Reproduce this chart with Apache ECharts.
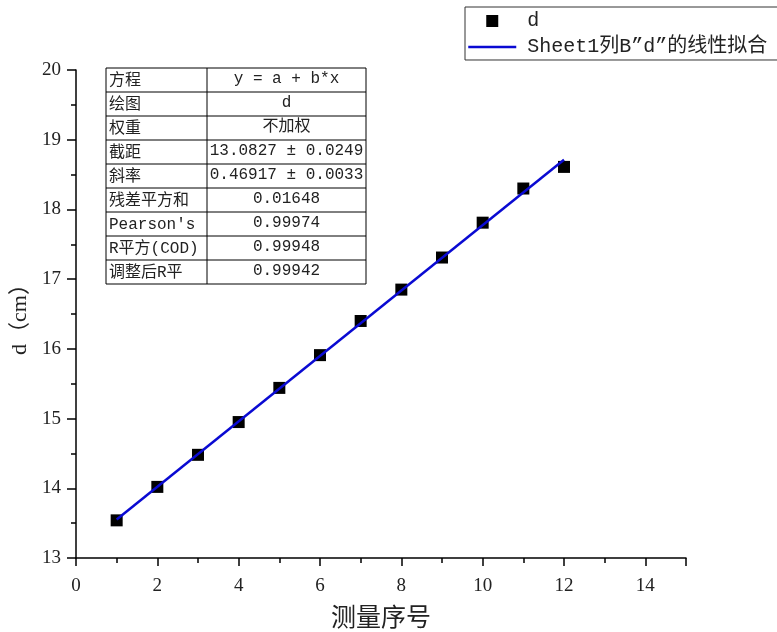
<!DOCTYPE html>
<html>
<head>
<meta charset="utf-8">
<script src="https://cdn.jsdelivr.net/npm/echarts@6/dist/echarts.min.js"></script>
<style>html,body{margin:0;padding:0;background:#fff}#c{width:777px;height:632px}</style>
</head>
<body>
<div id="c"></div>
<script>
// measurement index and measured d (cm)
const xValues = [1, 2, 3, 4, 5, 6, 7, 8, 9, 10, 11, 12];
const dValues = [13.54, 14.02, 14.48, 14.95, 15.44, 15.91, 16.40, 16.85, 17.31, 17.81, 18.30, 18.61];
// linear fit coefficients (from the fit table)
const fitIntercept = 13.0827;
const fitSlope = 0.46917;
const fitRange = [1, 12];
// fit table
const tableLabels = ['方程', '绘图', '权重', '截距', '斜率', '残差平方和', "Pearson's", 'R平方(COD)', '调整后R平'];
const tableValues = ['y = a + b*x', 'd', '不加权', '13.0827 ± 0.0249', '0.46917 ± 0.0033', '0.01648', '0.99974', '0.99948', '0.99942'];
const seriesNames = ['d', 'Sheet1列B”d”的线性拟合'];

const chart = echarts.init(document.getElementById('c'), null, {renderer: 'canvas'});

const scatterData = xValues.map((x, i) => [x, dValues[i]]);
const fitData = fitRange.map(x => [x, fitIntercept + fitSlope * x]);

// table graphics
const tX = 106, tY = 68, tW = 260, c1 = 101, rH = 24;
const tableFont = "'Liberation Mono', 'Noto Sans CJK SC', monospace";
const tableChildren = [];
tableChildren.push({type: 'rect', shape: {x: tX, y: tY, width: tW, height: rH * tableLabels.length}, style: {fill: '#fff', stroke: '#000', lineWidth: 1}});
tableChildren.push({type: 'line', shape: {x1: tX + c1, y1: tY, x2: tX + c1, y2: tY + rH * tableLabels.length}, style: {stroke: '#000', lineWidth: 1}});
tableLabels.forEach((lab, i) => {
  if (i > 0) tableChildren.push({type: 'line', shape: {x1: tX, y1: tY + rH * i, x2: tX + tW, y2: tY + rH * i}, style: {stroke: '#000', lineWidth: 1}});
  tableChildren.push({type: 'text', style: {x: tX + 3, y: tY + rH * i + rH / 2 + 1, text: lab, font: "16px " + tableFont, fill: '#222', textVerticalAlign: 'middle', textAlign: 'left'}});
  tableChildren.push({type: 'text', style: {x: tX + c1 + (tW - c1) / 2, y: tY + rH * i + rH / 2 - 1, text: tableValues[i], font: "16px " + tableFont, fill: '#222', textVerticalAlign: 'middle', textAlign: 'center'}});
});

const axisFont = "'Liberation Serif', 'Noto Sans CJK SC', serif";

chart.setOption({
  animation: false,
  backgroundColor: '#fff',
  grid: {left: 76, right: 91, top: 70, bottom: 74, containLabel: false, outerBoundsMode: 'none'},
  legend: {
    orient: 'vertical',
    left: 465, top: 7,
    itemWidth: 48, itemHeight: 12, itemGap: 6,
    padding: [4, 20, 3, 2],
    borderColor: '#333', borderWidth: 1,
    backgroundColor: '#fff',
    textStyle: {fontSize: 20, fontFamily: "'Liberation Mono', 'Noto Sans CJK SC', monospace", color: '#222', padding: [0, 0, 0, 6]},
    data: [
      {name: seriesNames[0], icon: 'path://M0,0L10,0L10,10L0,10Z', itemStyle: {color: '#000', opacity: 1}},
      {name: seriesNames[1], itemStyle: {opacity: 0}, lineStyle: {color: '#0a0ad2', width: 2.5, opacity: 1}}
    ]
  },
  xAxis: {
    type: 'value', min: 0, max: 15, interval: 2,
    name: '测量序号', nameLocation: 'middle', nameGap: 46,
    nameTextStyle: {fontSize: 25, fontFamily: "'Noto Sans CJK SC', sans-serif", color: '#222'},
    axisLine: {show: true, onZero: false, lineStyle: {color: '#000', width: 1.5}},
    axisTick: {show: true, inside: false, length: 8, lineStyle: {color: '#000', width: 1.5}},
    minorTick: {show: true, splitNumber: 2, length: 5, lineStyle: {color: '#000', width: 1.5}},
    axisLabel: {fontSize: 19, fontFamily: axisFont, color: '#222', margin: 19, showMaxLabel: false},
    splitLine: {show: false}, minorSplitLine: {show: false}
  },
  yAxis: {
    type: 'value', min: 13, max: 20, interval: 1,
    name: 'd（cm）', nameLocation: 'middle', nameGap: 45, nameRotate: 90,
    nameTextStyle: {fontSize: 22, fontFamily: "'Liberation Serif', 'Noto Sans CJK SC', serif", color: '#222'},
    axisLine: {show: true, onZero: false, lineStyle: {color: '#000', width: 1.5}},
    axisTick: {show: true, inside: false, length: 9, lineStyle: {color: '#000', width: 1.5}},
    minorTick: {show: true, splitNumber: 2, length: 5, lineStyle: {color: '#000', width: 1.5}},
    axisLabel: {fontSize: 19, fontFamily: axisFont, color: '#222', margin: 15},
    splitLine: {show: false}, minorSplitLine: {show: false}
  },
  series: [
    {
      name: seriesNames[0], type: 'scatter', data: scatterData,
      symbol: 'rect', symbolSize: 12,
      itemStyle: {color: '#000', opacity: 1}, z: 3
    },
    {
      name: seriesNames[1], type: 'line', data: fitData,
      symbol: 'none', showSymbol: false,
      lineStyle: {color: '#0a0ad2', width: 2.5},
      itemStyle: {color: '#0a0ad2'}, z: 4
    }
  ],
  graphic: [{type: 'group', children: tableChildren, z: 10}]
});
</script>
</body>
</html>
